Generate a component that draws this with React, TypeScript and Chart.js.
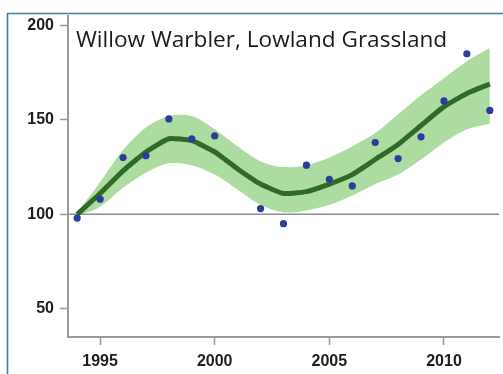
import React, { useEffect, useRef } from "react";
import { Chart, registerables } from "chart.js";

Chart.register(...registerables);

const years = [1994, 1995, 1996, 1997, 1998, 1999, 2000, 2001, 2002, 2003, 2004, 2005, 2006, 2007, 2008, 2009, 2010, 2011, 2012];
const observed: (number | null)[] = [98, 108, 130, 131, 150.5, 140, 141.5, null, 103, 95, 126, 118.5, 115, 138, 129.5, 141, 160, 185, 155];
const trend = [100, 111, 123, 133, 140, 139, 133, 124, 116, 111, 112, 116, 121, 129, 137, 147, 157, 164, 169];
const upper = [101, 117, 134, 146, 152, 152, 145, 136, 128, 125, 126, 130, 136, 143, 153, 163, 172, 181, 188];
const lower = [99, 104, 114, 122, 127, 126, 121, 113, 105, 101, 102, 105, 110, 116, 121, 129, 138, 145, 148];
const yTicks = [50, 100, 150, 200];
const xTicks = [1995, 2000, 2005, 2010];
const baseline = 100;
const title = "Willow Warbler, Lowland Grassland";

const X_MIN = 1993.6;
const X_MAX = 2012.4;

const pts = (vals: (number | null)[]) =>
  years.map((y, i) => ({ x: y, y: vals[i] })).filter((p) => p.y !== null) as { x: number; y: number }[];

// Panel frame (top and left rule) and the in-plot heading
const framePlugin = {
  id: "frame",
  afterDraw(chart: any) {
    const ctx = chart.ctx;
    ctx.save();
    ctx.strokeStyle = "#3f7fa6";
    ctx.lineWidth = 1.6;
    ctx.beginPath();
    ctx.moveTo(7.5, chart.height);
    ctx.lineTo(7.5, 13.5);
    ctx.lineTo(chart.width, 13.5);
    ctx.stroke();
    ctx.fillStyle = "#1c1a1b";
    ctx.font = '22.6px "Open Sans"';
    ctx.textBaseline = "alphabetic";
    ctx.textAlign = "left";
    ctx.fillText(title, 76, 47);
    ctx.restore();
  },
};

export default function App() {
  const ref = useRef<HTMLCanvasElement>(null);

  useEffect(() => {
    document.body.style.margin = "0";
    const chart = new Chart(ref.current!, {
      type: "line",
      data: {
        datasets: [
          {
            label: "upper",
            data: pts(upper),
            borderWidth: 0,
            pointRadius: 0,
            backgroundColor: "#addca0",
            fill: "+1",
            tension: 0.3,
            order: 5,
          },
          {
            label: "lower",
            data: pts(lower),
            borderWidth: 0,
            pointRadius: 0,
            fill: false,
            tension: 0.3,
            order: 5,
          },
          {
            label: "baseline",
            data: [
              { x: X_MIN, y: baseline },
              { x: X_MAX, y: baseline },
            ],
            borderColor: "#8e8e8e",
            borderWidth: 1.6,
            pointRadius: 0,
            fill: false,
            order: 4,
          },
          {
            label: "trend",
            data: pts(trend),
            borderColor: "#2f6b27",
            borderWidth: 5,
            pointRadius: 0,
            fill: false,
            tension: 0.15,
            order: 3,
          },
          {
            label: "index",
            data: pts(observed),
            showLine: false,
            pointRadius: 3.6,
            pointBorderWidth: 0,
            pointBackgroundColor: "#2c3c9e",
            order: 1,
          },
        ],
      },
      options: {
        animation: false,
        responsive: false,
        layout: { padding: { top: 16, right: 3, left: 0, bottom: 0 } },
        plugins: { legend: { display: false }, tooltip: { enabled: false } },
        scales: {
          x: {
            type: "linear",
            min: X_MIN,
            max: X_MAX,
            afterBuildTicks: (s: any) => {
              s.ticks = xTicks.map((v) => ({ value: v }));
            },
            afterFit: (s: any) => {
              s.height = 37;
            },
            border: { color: "#9b9b9b", width: 2 },
            grid: { drawOnChartArea: false, drawTicks: true, tickLength: 8, tickColor: "#9b9b9b", tickWidth: 1.5 },
            ticks: {
              padding: 7,
              color: "#1e1e1e",
              font: { family: '"Liberation Sans", Arial, sans-serif', size: 16, weight: "bold" },
              maxRotation: 0,
              callback: (v: any) => String(v),
            },
          },
          y: {
            type: "linear",
            min: 35,
            max: 205,
            afterBuildTicks: (s: any) => {
              s.ticks = yTicks.map((v) => ({ value: v }));
            },
            afterFit: (s: any) => {
              s.width = 68;
            },
            border: { color: "#9b9b9b", width: 2 },
            grid: { drawOnChartArea: false, drawTicks: true, tickLength: 8, tickColor: "#9b9b9b", tickWidth: 1.5 },
            ticks: {
              padding: 6,
              color: "#1e1e1e",
              font: { family: '"Liberation Sans", Arial, sans-serif', size: 16, weight: "bold" },
              callback: (v: any) => String(v),
            },
          },
        },
      },
      plugins: [framePlugin],
    });
    return () => chart.destroy();
  }, []);

  return (
    <div style={{ width: 503, height: 374, background: "#ffffff" }}>
      <canvas ref={ref} width={503} height={374} style={{ display: "block" }} />
    </div>
  );
}
